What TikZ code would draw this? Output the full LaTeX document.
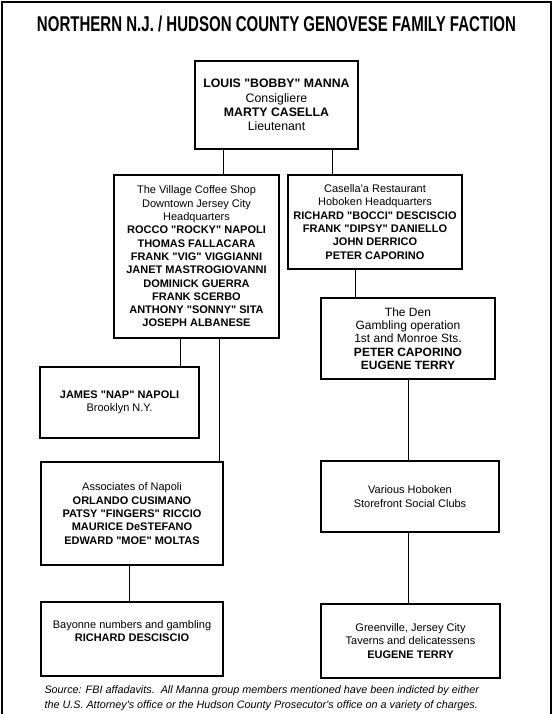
\documentclass[tikz,border=0pt]{standalone}
\usepackage{graphicx}
\usepackage{fontspec}
\newfontfamily\sans{Liberation Sans}
\usetikzlibrary{arrows}

\tikzset{
  box/.style 2 args={draw, line width=1.1pt, align=center, inner sep=0pt,
    minimum width=#1, minimum height=#2, font=\sans\fontsize{11}{13.3}\selectfont},
  link/.style={line width=0.9pt}
}
\newcommand{\nm}[1]{\textbf{#1}}

\begin{document}
\begin{tikzpicture}[x=1pt,y=-1pt,>=latex]
	\useasboundingbox (0,0) rectangle (557,714);
	%\draw [help lines,step=50] (0,0) grid (557,714);
	\draw [line width=1.6pt] (2,714) -- (2,2) -- (551,2) -- (551,714);
	\node [font=\sans] (title) at (276.5,24)
	  {\resizebox{479pt}{15.5pt}{\bfseries NORTHERN N.J. / HUDSON COUNTY GENOVESE FAMILY FACTION}};

	% boxes
	\node [box={163pt}{88pt}, font=\sans\fontsize{12.3}{14.4}\selectfont] (manna) at (276.5,105)
	  {\nm{LOUIS "BOBBY" MANNA}\\Consigliere\\\nm{MARTY CASELLA}\\Lieutenant};
	\node [box={165pt}{163pt}] (village) at (196.5,256.5)
	  {The Village Coffee Shop\\Downtown Jersey City\\Headquarters\\
	   \nm{ROCCO "ROCKY" NAPOLI}\\\nm{THOMAS FALLACARA}\\\nm{FRANK "VIG" VIGGIANNI}\\
	   \nm{JANET MASTROGIOVANNI}\\\nm{DOMINICK GUERRA}\\\nm{FRANK SCERBO}\\
	   \nm{ANTHONY "SONNY" SITA}\\\nm{JOSEPH ALBANESE}};
	\node [box={174pt}{94pt}] (casella) at (375,222)
	  {Casella'a Restaurant\\Hoboken Headquarters\\\nm{RICHARD "BOCCI" DESCISCIO}\\
	   \nm{FRANK "DIPSY" DANIELLO}\\\nm{JOHN DERRICO}\\\nm{PETER CAPORINO}};
	\node [box={174pt}{81pt}, font=\sans\fontsize{12}{13.3}\selectfont] (den) at (408,338.5)
	  {The Den\\Gambling operation\\1st and Monroe Sts.\\\nm{PETER CAPORINO}\\\nm{EUGENE TERRY}};
	\node [box={159pt}{71pt}] (james) at (119.5,402.5)
	  {\nm{JAMES "NAP" NAPOLI}\\Brooklyn N.Y.};
	\node [box={182pt}{103pt}] (assoc) at (132,513.5)
	  {Associates of Napoli\\\nm{ORLANDO CUSIMANO}\\\nm{PATSY "FINGERS" RICCIO}\\
	   \nm{MAURICE DeSTEFANO}\\\nm{EDWARD "MOE" MOLTAS}};
	\node [box={178pt}{71pt}] (various) at (410,496.5)
	  {Various Hoboken\\Storefront Social Clubs};
	\node [box={182pt}{74pt}] (bayonne) at (132,639)
	  {Bayonne numbers and gambling\\\nm{RICHARD DESCISCIO}\\[3pt]};
	\node [box={179pt}{74pt}] (green) at (410.5,641)
	  {Greenville, Jersey City\\Taverns and delicatessens\\\nm{EUGENE TERRY}};

	% connectors
	\draw [link] ([xshift=-53.5pt]manna.south) -- ([xshift=-53.5pt]manna.south |- village.north);
	\draw [link] ([xshift=55.5pt]manna.south) -- ([xshift=55.5pt]manna.south |- casella.north);
	\draw [link] ([xshift=60.5pt]james.north) -- ([xshift=60.5pt]james.north |- village.south);
	\draw [link] ([xshift=87pt]assoc.north) -- ([xshift=87pt]assoc.north |- village.south);
	\draw [link] ([xshift=-20pt]casella.south) -- ([xshift=-20pt]casella.south |- den.north);
	\draw [link] (den.south) -- (den.south |- various.north);
	\draw [link] ([xshift=-3pt]assoc.south) -- ([xshift=-3pt]assoc.south |- bayonne.north);
	\draw [link] ([xshift=-2pt]various.south) -- ([xshift=-2pt]various.south |- green.north);

	\node [anchor=west, align=left, font=\sans\fontsize{10.8}{15}\selectfont\itshape] (source) at (41,698.5)
	  {Source: FBI affadavits.\ \ All Manna group members mentioned have been indicted by either\\
	   the U.S. Attorney's office or the Hudson County Prosecutor's office on a variety of charges.};
\end{tikzpicture}
\end{document}
